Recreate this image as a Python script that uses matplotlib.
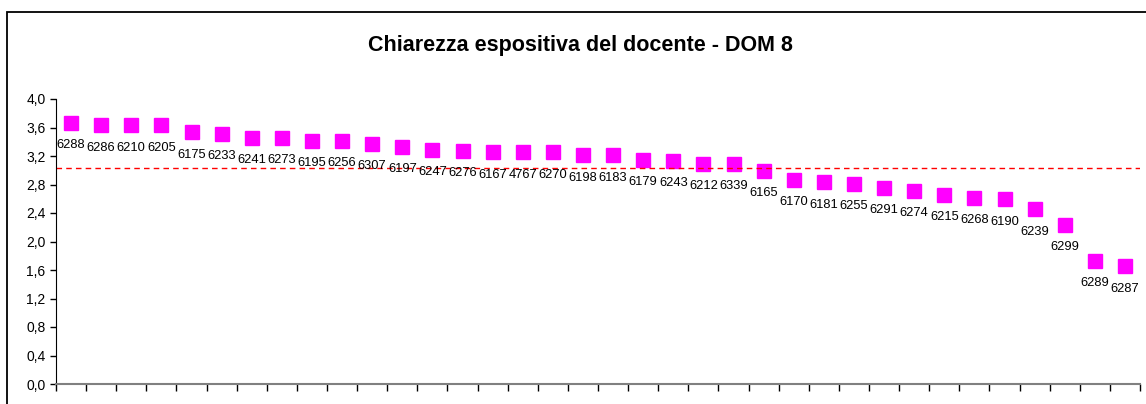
import matplotlib.pyplot as plt
from matplotlib.patches import Rectangle

plt.rcParams['font.family'] = ['Liberation Sans', 'DejaVu Sans']

codici = ['6288', '6286', '6210', '6205', '6175', '6233', '6241', '6273', '6195',
          '6256', '6307', '6197', '6247', '6276', '6167', '4767', '6270', '6198',
          '6183', '6179', '6243', '6212', '6339', '6165', '6170', '6181', '6255',
          '6291', '6274', '6215', '6268', '6190', '6239', '6299', '6289', '6287']
valori = [3.67, 3.63, 3.63, 3.63, 3.53, 3.51, 3.45, 3.45, 3.41,
          3.41, 3.37, 3.33, 3.29, 3.27, 3.25, 3.25, 3.25, 3.21,
          3.21, 3.15, 3.13, 3.09, 3.09, 2.99, 2.87, 2.83, 2.81,
          2.75, 2.71, 2.65, 2.61, 2.59, 2.45, 2.23, 1.73, 1.65]
media = 3.03
yticks = [0.0, 0.4, 0.8, 1.2, 1.6, 2.0, 2.4, 2.8, 3.2, 3.6, 4.0]

fig = plt.figure(figsize=(11.46, 4.04), dpi=100)
ax = fig.add_axes([56 / 1146, 20 / 404, 1084 / 1146, 285 / 404])

# cornice esterna del grafico
fig.patches.append(Rectangle((7 / 1146, -0.1), 1.2, 1 - 12 / 404 + 0.1,
                             transform=fig.transFigure, fill=False,
                             edgecolor='black', linewidth=1.3))

x = list(range(len(valori)))
ax.plot(x, valori, linestyle='none', marker='s', markersize=10,
        color='#ff00ff', markeredgecolor='#ff00ff')
for xi, v, c in zip(x, valori, codici):
    ax.annotate(c, (xi, v), xytext=(0, -16), textcoords='offset points',
                ha='center', va='center', fontsize=9.3)

ax.axhline(media, color='red', linestyle='--', linewidth=1, dashes=(4, 3))

ax.set_xlim(-0.5, len(valori) - 0.5)
ax.set_ylim(0, 4)
ax.set_yticks(yticks)
ax.set_yticklabels([f'{t:.1f}'.replace('.', ',') for t in yticks], fontsize=10)
ax.set_xticks([i - 0.5 for i in range(len(valori) + 1)])
ax.set_xticklabels([])
ax.tick_params(axis='x', direction='out', length=5, width=1, color='black')
ax.tick_params(axis='y', direction='out', length=4, width=1)

ax.spines['top'].set_visible(False)
ax.spines['right'].set_visible(False)
ax.spines['bottom'].set_color('#808080')
ax.spines['bottom'].set_linewidth(1.5)
ax.spines['left'].set_color('black')

fig.text(580 / 1146, 1 - 46 / 404, 'Chiarezza espositiva del docente - DOM 8',
         ha='center', va='center', fontsize=15.5, fontweight='bold')

fig.savefig('out.png', dpi=100)
